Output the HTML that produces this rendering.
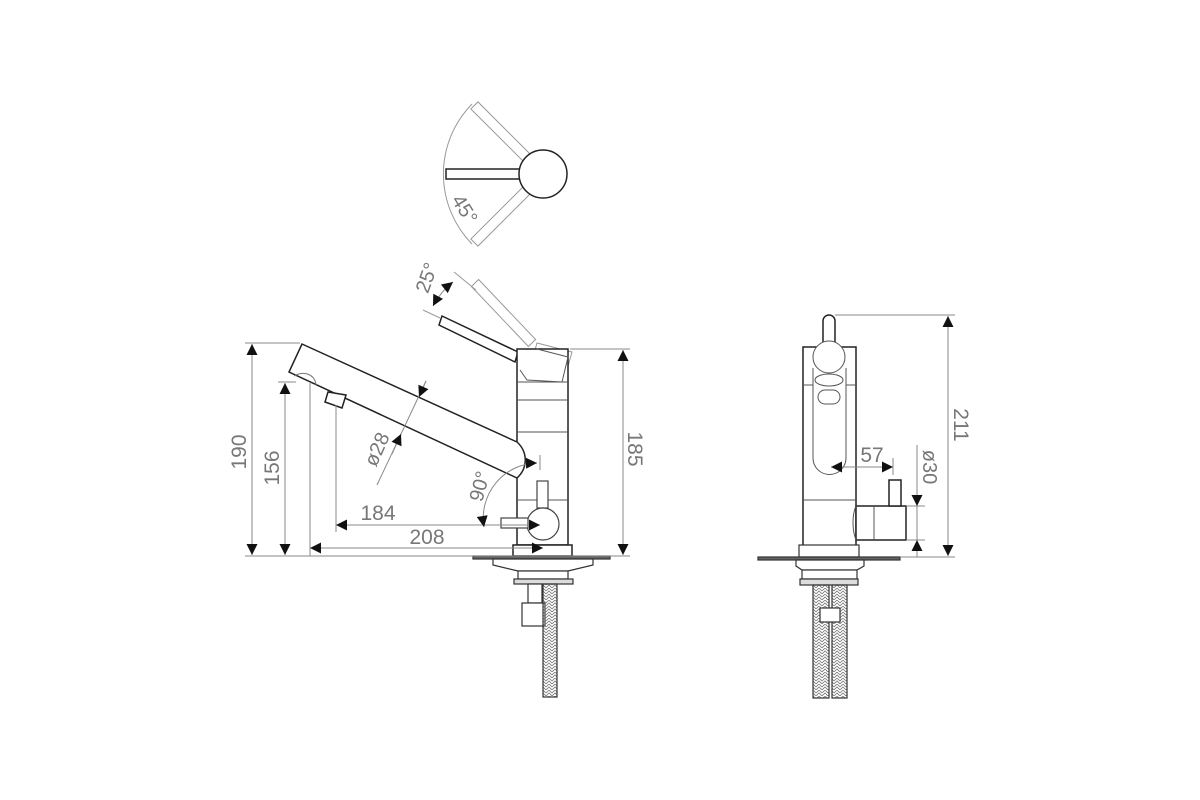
<!DOCTYPE html>
<html><head><meta charset="utf-8"><style>
html,body{margin:0;padding:0;background:#fff;}
svg{display:block;}
text{font-family:"Liberation Sans",sans-serif;fill:#777;}
</style></head><body>
<svg width="1200" height="800" viewBox="0 0 1200 800" xmlns="http://www.w3.org/2000/svg">
<defs>
<marker id="a" viewBox="0 0 10 10" refX="10" refY="5" markerWidth="12" markerHeight="11" orient="auto-start-reverse" markerUnits="userSpaceOnUse"><path d="M0,0L10,5L0,10z" fill="#111"/></marker>
<pattern id="h" width="6" height="6" patternUnits="userSpaceOnUse"><path d="M0,3L3,0L6,3M0,6L3,3L6,6" stroke="#777" stroke-width="0.8" fill="none"/></pattern>
</defs>
<rect width="1200" height="800" fill="#fff"/>

<!-- TOP VIEW -->
<g fill="none" stroke="#999" stroke-width="1">
 <path d="M472,104 A100,100 0 0 0 472,244"/>
 <g transform="rotate(45 543 174)"><rect x="446" y="169" width="75" height="10"/></g>
 <g transform="rotate(-45 543 174)"><rect x="446" y="169" width="75" height="10"/></g>
</g>
<g fill="#fff" stroke="#222" stroke-width="1.5">
 <rect x="446" y="169" width="75" height="10"/>
 <circle cx="543" cy="174" r="24"/>
</g>
<text x="451" y="200" font-size="20" transform="rotate(58 451 200)">45°</text>

<!-- LEFT VIEW: ghost lever -->
<g fill="none" stroke="#999" stroke-width="1">
 <path d="M478.6,279.5 L535.6,339.5 L528.4,346.5 L471.4,286.5 Z"/>
 <path d="M537,343 L572,352 L562,388 L527,378 Z"/>
 <line x1="454" y1="272" x2="476" y2="290"/>
 <line x1="423" y1="310" x2="440" y2="318"/>
</g>
<!-- lever -->
<g fill="#fff" stroke="#222" stroke-width="1.5">
 <path d="M442,316 L518,352 L515,362 L439,325 Z"/>
 <rect x="517" y="349" width="51" height="196"/>
 <rect x="513" y="545" width="59" height="11"/>
</g>
<g fill="none" stroke="#555" stroke-width="1">
 <line x1="517" y1="382" x2="568" y2="382"/>
 <line x1="517" y1="400" x2="568" y2="400"/>
 <line x1="517" y1="432" x2="568" y2="432"/>
 <line x1="517" y1="500" x2="568" y2="500"/>
 <path d="M537,349 L568,357 L562,382 L527,380 L520,370"/>
</g>
<!-- spout -->
<g fill="#fff" stroke="#222" stroke-width="1.5">
 <path d="M302,344 L517,442 C528,452 528,468 517,478 L289,372 Z"/>
 <path d="M328,392 L346,395 L342,408 L325,402 Z"/>
</g>
<path d="M294,376 C305,370 315,375 316,385" fill="none" stroke="#777" stroke-width="1"/>
<!-- valve -->
<g fill="#fff" stroke="#444" stroke-width="1.2">
 <rect x="537" y="481" width="11" height="27"/>
 <circle cx="543" cy="524" r="16"/>
 <rect x="501" y="518" width="27" height="10"/>
</g>
<!-- under plate -->
<g fill="#fff" stroke="#333" stroke-width="1.2">
 <rect x="473" y="556" width="137" height="3" fill="#666"/>
 <path d="M493,559 L593,559 L593,565 L568,571 L518,571 L493,565 Z"/>
 <rect x="518" y="571" width="50" height="8"/>
 <rect x="514" y="579" width="59" height="5" fill="#ddd"/>
 <rect x="528" y="584" width="14" height="19"/>
 <rect x="522" y="603" width="23" height="23"/>
 <rect x="543" y="584" width="14" height="113" fill="url(#h)"/>
</g>

<!-- LEFT dims -->
<g stroke="#888" stroke-width="1" fill="none">
 <line x1="245" y1="343" x2="300" y2="343"/>
 <line x1="245" y1="556" x2="630" y2="556"/>
 <line x1="278" y1="382" x2="296" y2="382"/>
 <line x1="570" y1="349" x2="630" y2="349"/>
 <line x1="310" y1="382" x2="310" y2="556"/>
 <line x1="336" y1="405" x2="336" y2="532"/>
 <line x1="540" y1="455" x2="540" y2="470"/>
 <line x1="377" y1="485" x2="426" y2="381"/>
</g>
<g stroke="#888" stroke-width="1" fill="none" marker-start="url(#a)" marker-end="url(#a)">
 <line x1="252" y1="344" x2="252" y2="555"/>
 <line x1="285" y1="383" x2="285" y2="555"/>
 <line x1="623" y1="350" x2="623" y2="555"/>
 <line x1="336" y1="525" x2="540" y2="525"/>
 <line x1="310" y1="548" x2="543" y2="548"/>
</g>
<g stroke="#888" stroke-width="1" fill="none">
 <line x1="426" y1="381" x2="419" y2="397" marker-end="url(#a)"/>
 <line x1="392" y1="454" x2="401" y2="434" marker-end="url(#a)"/>
 <path d="M484,527 A55,55 0 0 1 537,463" marker-start="url(#a)" marker-end="url(#a)"/>
 <path d="M433,306 A75,75 0 0 1 453,282" marker-start="url(#a)" marker-end="url(#a)"/>
</g>
<text x="246" y="452" font-size="21" transform="rotate(-90 246 452)" text-anchor="middle">190</text>
<text x="279" y="468" font-size="21" transform="rotate(-90 279 468)" text-anchor="middle">156</text>
<text x="628" y="449" font-size="21" transform="rotate(90 628 449)" text-anchor="middle">185</text>
<text x="378" y="520" font-size="21" text-anchor="middle">184</text>
<text x="427" y="544" font-size="21" text-anchor="middle">208</text>
<text x="383" y="452" font-size="20" transform="rotate(-66 383 452)" text-anchor="middle">ø28</text>
<text x="486" y="488" font-size="20" transform="rotate(-75 486 488)" text-anchor="middle">90°</text>
<text x="433" y="280" font-size="20" transform="rotate(-70 433 280)" text-anchor="middle">25°</text>

<!-- RIGHT VIEW -->
<g fill="#fff" stroke="#222" stroke-width="1.5">
 <path d="M823,347 L823,321 A6,6 0 0 1 835,321 L835,347"/>
 <rect x="803" y="347" width="53" height="199"/>
 <rect x="856" y="506" width="50" height="34"/>
 <rect x="889" y="480" width="12" height="26"/>
</g>
<g fill="none" stroke="#555" stroke-width="1">
 <circle cx="829" cy="357" r="16" fill="#fff"/>
 <line x1="803" y1="385" x2="813" y2="385"/>
 <line x1="846" y1="385" x2="856" y2="385"/>
 <line x1="803" y1="500" x2="856" y2="500"/>
 <path d="M813,368 L813,458 A16.5,16.5 0 0 0 846,458 L846,368"/>
 <ellipse cx="829" cy="380" rx="14" ry="6"/>
 <rect x="818" y="390" width="22" height="14" rx="7"/>
 <line x1="874" y1="506" x2="874" y2="540"/>
 <path d="M856,506 C852,515 852,530 856,540"/>
</g>
<g fill="#fff" stroke="#333" stroke-width="1.2">
 <rect x="799" y="545" width="60" height="12"/>
 <rect x="758" y="557" width="142" height="3" fill="#666"/>
 <path d="M796,560 L864,560 L864,566 L857,570 L802,570 L796,566 Z"/>
 <rect x="802" y="570" width="55" height="9"/>
 <rect x="800" y="579" width="58" height="6" fill="#ddd"/>
 <rect x="813" y="585" width="16" height="113" fill="url(#h)"/>
 <rect x="832" y="585" width="15" height="113" fill="url(#h)"/>
 <rect x="820" y="608" width="20" height="14"/>
</g>
<g stroke="#888" stroke-width="1" fill="none">
 <line x1="835" y1="315" x2="955" y2="315"/>
 <line x1="900" y1="557" x2="955" y2="557"/>
 <line x1="893" y1="458" x2="893" y2="475"/>
 <line x1="917" y1="445" x2="917" y2="557"/>
 <line x1="906" y1="506" x2="925" y2="506"/>
 <line x1="906" y1="540" x2="925" y2="540"/>
</g>
<g stroke="#888" stroke-width="1" fill="none" marker-start="url(#a)" marker-end="url(#a)">
 <line x1="948" y1="316" x2="948" y2="556"/>
 <line x1="831" y1="467" x2="893" y2="467"/>
</g>
<g stroke="#888" stroke-width="1" fill="none">
 <line x1="917" y1="494" x2="917" y2="506" marker-end="url(#a)"/>
 <line x1="917" y1="552" x2="917" y2="540" marker-end="url(#a)"/>
</g>
<text x="954" y="425" font-size="21" transform="rotate(90 954 425)" text-anchor="middle">211</text>
<text x="872" y="462" font-size="21" text-anchor="middle">57</text>
<text x="923" y="467" font-size="20" transform="rotate(90 923 467)" text-anchor="middle">ø30</text>
</svg>
</body></html>
